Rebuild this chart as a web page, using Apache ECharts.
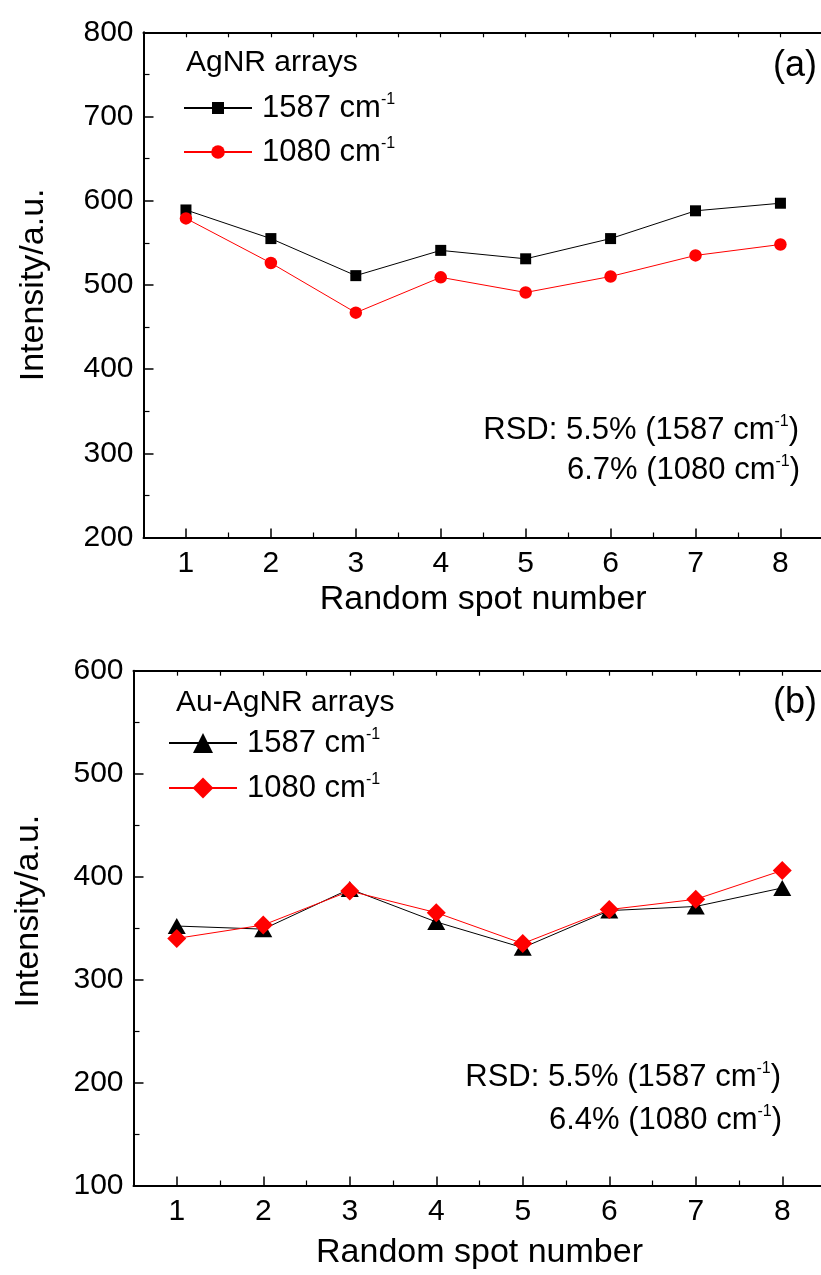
<!DOCTYPE html>
<html>
<head>
<meta charset="utf-8">
<style>
  html, body { margin: 0; padding: 0; background: #fff; }
  #chart { width: 821px; height: 1275px; }
</style>
<script src="https://cdn.jsdelivr.net/npm/echarts@6/dist/echarts.min.js"></script>
</head>
<body>
<div id="chart"></div>
<script>
// Random spot positions on the substrate
const spots = [1, 2, 3, 4, 5, 6, 7, 8];
const halfSpots = [1.5, 2.5, 3.5, 4.5, 5.5, 6.5, 7.5];

// (a) AgNR arrays: Raman intensity at two bands
const agnr1587 = [589, 555, 511, 541, 531, 555, 588, 597];
const agnr1080 = [579, 526, 467, 509, 491, 510, 535, 548];

// (b) Au-AgNR arrays
const auagnr1587 = [352, 349, 388, 356, 331, 367, 371, 389];
const auagnr1080 = [340, 353, 386, 365, 335, 368, 378, 406];

// Y tick values for each panel
const yTicksA = [200, 300, 400, 500, 600, 700, 800];
const yTicksB = [100, 200, 300, 400, 500, 600];

const FONT = "'Liberation Sans', Arial, Helvetica, sans-serif";
const BLACK = '#000000';
const RED = '#ff0000';

const pair = (vals) => spots.map((s, i) => [s, vals[i]]);

const superRich = {
  t: { fontSize: 31, fontFamily: FONT, color: BLACK, lineHeight: 32 },
  s: { fontSize: 16, fontFamily: FONT, color: BLACK, lineHeight: 15, verticalAlign: 'top' }
};

const grids = [
  { left: 143.5, top: 32.3, width: 679.4, height: 505.2, outerBoundsMode: 'none', containLabel: false },
  { left: 133.5, top: 670.7, width: 692, height: 514.8, outerBoundsMode: 'none', containLabel: false }
];

function xAxesFor(g, nameGap) {
  const line = { show: true, lineStyle: { color: BLACK, width: 2 } };
  return [
    {
      type: 'value', gridIndex: g, position: 'bottom', min: 0.5, max: 8.5,
      axisLine: line,
      axisTick: { show: true, inside: true, length: 9, lineStyle: { color: BLACK, width: 1.5 }, customValues: spots },
      axisLabel: { show: true, customValues: spots, fontSize: 30, fontFamily: FONT, color: BLACK, margin: 11 },
      splitLine: { show: false },
      name: 'Random spot number', nameLocation: 'middle', nameGap: nameGap,
      nameTextStyle: { fontSize: 34, fontFamily: FONT, color: BLACK }
    },
    {
      type: 'value', gridIndex: g, position: 'bottom', min: 0.5, max: 8.5,
      axisLine: { show: false },
      axisTick: { show: true, inside: true, length: 5, lineStyle: { color: BLACK, width: 1.2 }, customValues: halfSpots },
      axisLabel: { show: false }, splitLine: { show: false }
    },
    {
      type: 'value', gridIndex: g, position: 'top', min: 0.5, max: 8.5,
      axisLine: line,
      axisTick: { show: true, inside: true, length: 5, lineStyle: { color: BLACK, width: 1.2 }, customValues: spots.concat(halfSpots) },
      axisLabel: { show: false }, splitLine: { show: false }
    }
  ];
}

function yAxisFor(g, min, max, ticks, nameGap, namePad) {
  return {
    type: 'value', gridIndex: g, position: 'left', min: min, max: max, interval: 100,
    axisLine: { show: true, lineStyle: { color: BLACK, width: 2 } },
    axisTick: { show: true, inside: true, length: 10, lineStyle: { color: BLACK, width: 1.5 } },
    minorTick: { show: true, splitNumber: 2, length: 6, lineStyle: { color: BLACK, width: 1.2 } },
    axisLabel: {
      fontSize: 30, fontFamily: FONT, color: BLACK, margin: 10,
      formatter: (v) => (ticks.indexOf(v) >= 0 ? String(v) : '')
    },
    splitLine: { show: false },
    name: 'Intensity/a.u.', nameLocation: 'middle', nameGap: nameGap, nameRotate: 90,
    nameTextStyle: { fontSize: 34, fontFamily: FONT, color: BLACK, padding: namePad }
  };
}

const xAxes = xAxesFor(0, 45).concat(xAxesFor(1, 50));
const yAxes = [
  yAxisFor(0, 200, 800, yTicksA, 93, [0, 0, 0, 0]),
  yAxisFor(1, 100, 600, yTicksB, 88, [0, 0, 0, 34])
];

function lineSeries(name, xi, yi, data, color, symbol, size) {
  return {
    name: name, type: 'line', xAxisIndex: xi, yAxisIndex: yi, data: data,
    symbol: symbol, symbolSize: size, showSymbol: true,
    lineStyle: { color: color, width: 1 },
    itemStyle: { color: color, borderWidth: 0 },
    emphasis: { disabled: true },
    animation: false, z: 3
  };
}

const series = [
  lineSeries('AgNR 1587', 0, 0, pair(agnr1587), BLACK, 'rect', 11),
  lineSeries('AgNR 1080', 0, 0, pair(agnr1080), RED, 'circle', 12.5),
  lineSeries('Au-AgNR 1587', 3, 1, pair(auagnr1587), BLACK, 'triangle', [18, 16]),
  lineSeries('Au-AgNR 1080', 3, 1, pair(auagnr1080), RED, 'diamond', [19, 19])
];

function legendItem(name, left, top, itemHeight, label) {
  return {
    data: [name], left: left, top: top, orient: 'vertical', padding: 0,
    itemWidth: 68, itemHeight: itemHeight, selectedMode: false,
    formatter: () => '{t|' + label + ' cm}{s|-1}',
    textStyle: { rich: superRich, padding: [0, 0, 0, 5] }
  };
}

const legends = [
  legendItem('AgNR 1587', 183, 92, 15, '1587'),
  legendItem('AgNR 1080', 183, 136, 17, '1080'),
  legendItem('Au-AgNR 1587', 168, 727, 25, '1587'),
  legendItem('Au-AgNR 1080', 168, 772, 26, '1080')
];

function label(x, y, text, size, align) {
  return {
    type: 'text', x: x, y: y, silent: true,
    style: { text: text, fontSize: size, fontFamily: FONT, fill: BLACK, align: align, verticalAlign: 'middle' }
  };
}

function rsdLine(x, y, text) {
  return {
    type: 'text', x: x, y: y, silent: true,
    style: {
      text: text, fontSize: 31, fontFamily: FONT, fill: BLACK,
      align: 'right', verticalAlign: 'middle',
      rich: superRich
    }
  };
}

const graphics = [
  label(186, 63, 'AgNR arrays', 30, 'left'),
  label(817, 66, '(a)', 36, 'right'),
  rsdLine(799, 430, '{t|RSD: 5.5% (1587 cm}{s|-1}{t|)}'),
  rsdLine(800, 470, '{t|6.7% (1080 cm}{s|-1}{t|)}'),
  label(176, 703, 'Au-AgNR arrays', 30, 'left'),
  label(817, 703, '(b)', 36, 'right'),
  rsdLine(781, 1077, '{t|RSD: 5.5% (1587 cm}{s|-1}{t|)}'),
  rsdLine(782, 1120, '{t|6.4% (1080 cm}{s|-1}{t|)}')
];

const chart = echarts.init(document.getElementById('chart'), null, { renderer: 'canvas' });
chart.setOption({
  backgroundColor: '#ffffff',
  animation: false,
  grid: grids,
  xAxis: xAxes,
  yAxis: yAxes,
  legend: legends,
  series: series,
  graphic: graphics
});
</script>
</body>
</html>
